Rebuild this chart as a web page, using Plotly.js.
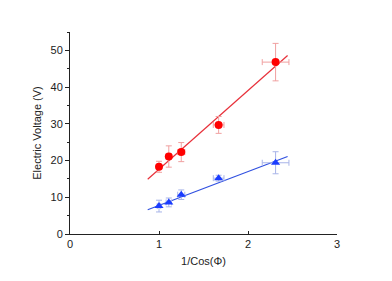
<!DOCTYPE html>
<html><head><meta charset="utf-8">
<script src="https://cdn.plot.ly/plotly-3.0.1.min.js"></script>
<style>html,body{margin:0;padding:0;background:#fff;}#chart{width:392px;height:281px;}</style>
</head><body><div id="chart"></div>
<script>
// Measured data
const redX = [1.00, 1.11, 1.25, 1.67, 2.31];
const redY = [18.3, 21.1, 22.3, 29.7, 46.8];
const redErrY = [1.5, 2.9, 2.6, 2.3, 5.1];
const redErrX = [0.02, 0.03, 0.04, 0.06, 0.15];

const blueX = [1.00, 1.11, 1.25, 1.67, 2.31];
const blueY = [7.6, 8.6, 10.7, 15.2, 19.4];
const blueErrY = [1.6, 1.2, 1.3, 0.8, 3.0];
const blueErrX = [0.02, 0.03, 0.04, 0.06, 0.15];

const fitX = [0.873, 2.445];
const redFitY = [14.9, 48.6];
const blueFitY = [6.6, 21.1];

const xTicks = [0, 1, 2, 3];
const yTicks = [0, 10, 20, 30, 40, 50];

const traces = [
  {x: fitX, y: redFitY, mode: 'lines', line: {color: '#e8303a', width: 1.2}, hoverinfo: 'skip'},
  {x: fitX, y: blueFitY, mode: 'lines', line: {color: '#3050e0', width: 1.2}, hoverinfo: 'skip'},
  {x: redX, y: redY, mode: 'markers', marker: {symbol: 'circle', size: 8, color: '#ff0000'},
   error_y: {type: 'data', array: redErrY, visible: true, color: '#f0a0a0', thickness: 1, width: 3},
   error_x: {type: 'data', array: redErrX, visible: true, color: '#f0a0a0', thickness: 1, width: 3}},
  {x: blueX, y: blueY, mode: 'markers', marker: {symbol: 'triangle-up', size: 8, color: '#1a3cff'},
   error_y: {type: 'data', array: blueErrY, visible: true, color: '#a8b4e8', thickness: 1, width: 3},
   error_x: {type: 'data', array: blueErrX, visible: true, color: '#a8b4e8', thickness: 1, width: 3}}
];

const layout = {
  width: 392, height: 281,
  margin: {l: 70, r: 55, t: 32, b: 47},
  paper_bgcolor: '#fff', plot_bgcolor: '#fff',
  showlegend: false,
  font: {family: 'Liberation Sans, Arial, sans-serif', size: 11, color: '#222'},
  xaxis: {
    range: [0, 3], tickvals: xTicks, ticktext: xTicks.map(String),
    showgrid: false, zeroline: false, showline: true, linecolor: '#222', linewidth: 1,
    ticks: 'inside', ticklen: 3, tickcolor: '#222',
    title: {text: '1/Cos(Φ)', font: {size: 11}, standoff: 8}
  },
  yaxis: {
    range: [0, 55], tickvals: yTicks, ticktext: yTicks.map(String),
    showgrid: false, zeroline: false, showline: true, linecolor: '#222', linewidth: 1,
    ticks: 'outside', ticklen: 4, tickcolor: '#222',
    minor: {dtick: 5, ticks: 'outside', ticklen: 2, tickcolor: '#222', showgrid: false},
    title: {text: 'Electric Voltage (V)', font: {size: 11}, standoff: 6}
  }
};
Plotly.newPlot('chart', traces, layout, {displayModeBar: false, staticPlot: true});
</script></body></html>
